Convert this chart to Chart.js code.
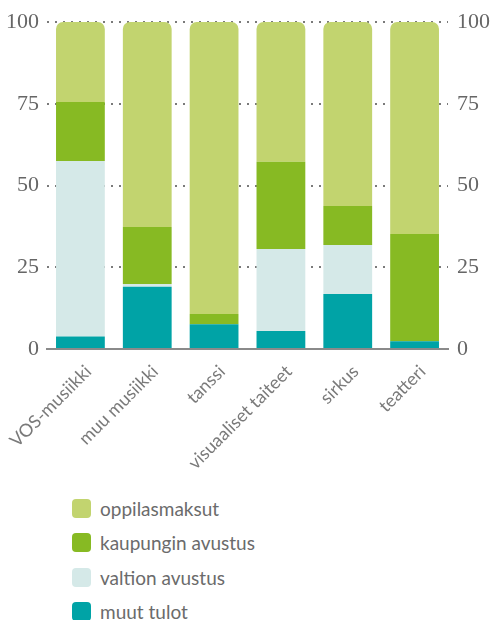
<!DOCTYPE html>
<html>
<head>
<meta charset="utf-8">
<script src="https://cdn.jsdelivr.net/npm/chart.js@4"></script>
<style>
    html, body { margin: 0; padding: 0; background: #fff; }
    #wrap { position: relative; width: 490px; height: 470px; }
    #legend { list-style: none; margin: 0; padding: 21px 0 0 72px; font-family: Lato, 'Open Sans', sans-serif; font-size: 19px; color: #6b6b6b; }
    #legend li { display: flex; align-items: center; height: 34.5px; }
    #legend span.box { width: 19px; height: 19px; border-radius: 4px; margin-right: 9px; }
</style>
</head>
<body>
<div id="wrap"><canvas id="incomeChart"></canvas></div>
<ul id="legend"></ul>
<script>
// Data (percent shares per art form)
const categories = ['VOS-musiikki', 'muu musiikki', 'tanssi', 'visuaaliset taiteet', 'sirkus', 'teatteri'];
const muutTulot = [3.8, 19.0, 7.6, 5.5, 16.8, 2.4];
const valtionAvustus = [53.7, 0.9, 0, 25.1, 15.0, 0];
const kaupunginAvustus = [18.0, 17.4, 3.1, 26.7, 11.9, 32.8];
const oppilasmaksut = [24.5, 62.7, 89.3, 42.7, 56.3, 64.8];
const yTicks = [0, 25, 50, 75, 100];

const tickFont = { family: "'Liberation Serif', serif", size: 22 };

function renderChart() {
    const ctx = document.getElementById('incomeChart').getContext('2d');

    const datasets = [
        { label: 'muut tulot', data: muutTulot, backgroundColor: '#00a3a6' },
        { label: 'valtion avustus', data: valtionAvustus, backgroundColor: '#d5e9e8' },
        { label: 'kaupungin avustus', data: kaupunginAvustus, backgroundColor: '#87ba23' },
        {
            label: 'oppilasmaksut',
            data: oppilasmaksut,
            backgroundColor: '#c2d46f',
            borderRadius: { topLeft: 7, topRight: 7, bottomLeft: 0, bottomRight: 0 },
            borderSkipped: false
        }
    ];

    const chart = new Chart(ctx, {
        type: 'bar',
        data: { labels: categories, datasets: datasets },
        options: {
            responsive: true,
            maintainAspectRatio: false,
            animation: false,
            datasets: {
                bar: { barPercentage: 0.73, categoryPercentage: 1.0 }
            },
            layout: { padding: { top: 22, left: 0, right: 0, bottom: 0 } },
            plugins: {
                legend: { display: false },
                tooltip: { enabled: false }
            },
            scales: {
                x: {
                    stacked: true,
                    afterFit: s => { s.height = 121; s.paddingLeft = 0; s.paddingRight = 0; },
                    grid: { display: false },
                    border: { display: true, color: '#8a8a8a', width: 2 },
                    ticks: {
                        color: '#7a7a7a',
                        font: { family: "Lato, 'Open Sans', sans-serif", size: 18 },
                        maxRotation: 45,
                        minRotation: 45,
                        labelOffset: 8,
                        padding: 4
                    }
                },
                y: {
                    stacked: true,
                    min: 0,
                    max: 100,
                    afterBuildTicks: axis => { axis.ticks = yTicks.map(v => ({ value: v })); },
                    afterFit: s => { s.width = 47; s.paddingTop = 0; s.paddingBottom = 0; },
                    grid: {
                        drawTicks: false,
                        lineWidth: 2,
                        color: c => (c.tick && c.tick.value === 0) ? 'rgba(0,0,0,0)' : '#7a7a7a'
                    },
                    border: { display: false, dash: [2, 6] },
                    ticks: { color: '#666', font: tickFont, padding: 8 }
                },
                y2: {
                    position: 'right',
                    min: 0,
                    max: 100,
                    afterBuildTicks: axis => { axis.ticks = yTicks.map(v => ({ value: v })); },
                    afterFit: s => { s.width = 42; s.paddingTop = 0; s.paddingBottom = 0; },
                    grid: { display: false, drawTicks: false },
                    border: { display: false },
                    ticks: { color: '#666', font: tickFont, padding: 9 }
                }
            }
        }
    });

    // Legend list, top series first
    const legend = document.getElementById('legend');
    chart.data.datasets.slice().reverse().forEach(ds => {
        const li = document.createElement('li');
        const box = document.createElement('span');
        box.className = 'box';
        box.style.background = ds.backgroundColor;
        li.appendChild(box);
        li.appendChild(document.createTextNode(ds.label));
        legend.appendChild(li);
    });
}

renderChart();
</script>
</body>
</html>
